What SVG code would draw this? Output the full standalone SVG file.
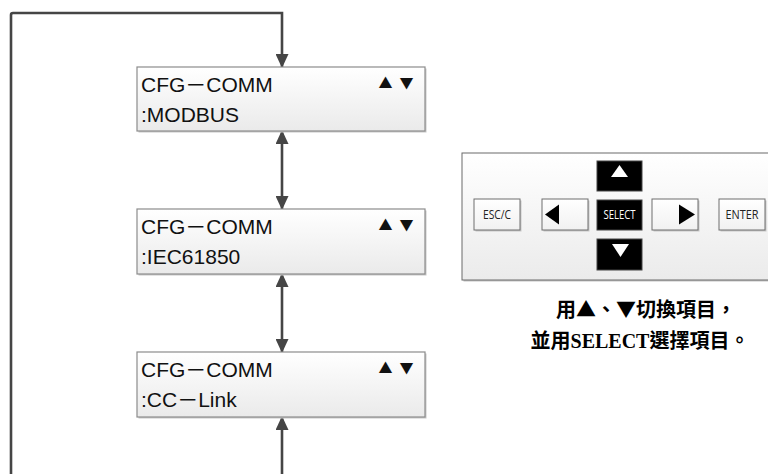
<svg xmlns="http://www.w3.org/2000/svg" width="768" height="474" viewBox="0 0 768 474">
<defs>
<linearGradient id="gNode" x1="0" y1="0" x2="0" y2="1">
<stop offset="0" stop-color="#ffffff"/>
<stop offset="1" stop-color="#eaeaea"/>
</linearGradient>
<linearGradient id="gPanel" x1="0" y1="0" x2="0" y2="1">
<stop offset="0" stop-color="#ffffff"/>
<stop offset="1" stop-color="#ebebeb"/>
</linearGradient>
<linearGradient id="gBtn" x1="0" y1="0" x2="0" y2="1">
<stop offset="0" stop-color="#ffffff"/>
<stop offset="1" stop-color="#f1f1f1"/>
</linearGradient>
<marker id="arr" markerUnits="userSpaceOnUse" markerWidth="14" markerHeight="13" refX="13" refY="6.5" orient="auto-start-reverse">
<path d="M0,0 L14,6.5 L0,13 z" fill="#454545"/>
</marker>
</defs>
<style>
.node{fill:url(#gNode);stroke:#8c8c8c;stroke-width:1.2}
.shadow{fill:#c8c8c8}
.ntxt{font-family:"Liberation Sans","Noto Sans CJK JP",sans-serif;font-size:21px;fill:#111}
.tri{font-family:"Noto Sans CJK JP",sans-serif;font-size:14px;fill:#111;text-anchor:middle}
.conn{fill:none;stroke:#454545;stroke-width:2.6}
.btn{fill:url(#gBtn);stroke:#6e6e6e;stroke-width:1}
.bbtn{fill:#000;stroke:#444;stroke-width:1}
.btxt{font-family:"Open Sans","Liberation Sans",sans-serif;font-size:12px;fill:#222;text-anchor:middle}
.wtxt{font-family:"Open Sans","Liberation Sans",sans-serif;font-size:12px;fill:#fff;text-anchor:middle}
.cap{font-family:"Liberation Serif","Noto Sans CJK TC",serif;font-size:20px;fill:#000;text-anchor:middle;font-weight:bold}
.cjk{font-family:"Noto Sans CJK TC",sans-serif}
</style>

<g id="connectors">
<path class="conn" d="M11,474 V15 Q11,13 13,13 H282 V67" marker-end="url(#arr)"/>
<path class="conn" d="M282,131 V209" marker-start="url(#arr)" marker-end="url(#arr)"/>
<path class="conn" d="M282,274 V352" marker-start="url(#arr)" marker-end="url(#arr)"/>
<path class="conn" d="M282,474 V417" marker-end="url(#arr)"/>
</g>

<g id="node1">
<rect class="shadow" x="138.5" y="68.5" width="288" height="64"/>
<rect class="node" x="137" y="67" width="288" height="64"/>
<text class="ntxt" x="141" y="92">CFG－COMM</text>
<text class="ntxt" x="141" y="122">:MODBUS</text>
<text class="tri" x="385.5" y="88">▲</text>
<text class="tri" x="406.5" y="88">▼</text>
</g>

<g id="node2">
<rect class="shadow" x="138.5" y="210.5" width="288" height="65"/>
<rect class="node" x="137" y="209" width="288" height="65"/>
<text class="ntxt" x="141" y="234">CFG－COMM</text>
<text class="ntxt" x="141" y="264">:IEC61850</text>
<text class="tri" x="385.5" y="230">▲</text>
<text class="tri" x="406.5" y="230">▼</text>
</g>

<g id="node3">
<rect class="shadow" x="138.5" y="353.5" width="288" height="65"/>
<rect class="node" x="137" y="352" width="288" height="65"/>
<text class="ntxt" x="141" y="377">CFG－COMM</text>
<text class="ntxt" x="141" y="407">:CC－Link</text>
<text class="tri" x="385.5" y="373">▲</text>
<text class="tri" x="406.5" y="373">▼</text>
</g>

<g id="panel">
<rect x="463.5" y="154.5" width="320" height="127" fill="#c4c4c4"/>
<rect x="462" y="153" width="320" height="127" fill="url(#gPanel)" stroke="#6a6a6a" stroke-width="1"/>
</g>

<g id="btn-esc">
<rect x="475.5" y="200.5" width="46" height="31" fill="#c8c8c8"/>
<rect class="btn" x="474" y="199" width="46" height="31"/>
<text class="btxt" x="497" y="219" textLength="28" lengthAdjust="spacingAndGlyphs">ESC/C</text>
</g>
<g id="btn-left">
<rect x="543.5" y="200.5" width="46" height="31" fill="#c8c8c8"/>
<rect class="btn" x="542" y="199" width="46" height="31"/>
<polygon points="545,214.5 559,204.5 559,224.5" fill="#000"/>
</g>
<g id="btn-up">
<rect class="bbtn" x="597" y="161" width="45" height="30"/>
<polygon points="619.5,165 628,177 611,177" fill="#fff"/>
</g>
<g id="btn-select">
<rect class="bbtn" x="597" y="200" width="45" height="30"/>
<text class="wtxt" x="619.5" y="219" textLength="32" lengthAdjust="spacingAndGlyphs">SELECT</text>
</g>
<g id="btn-down">
<rect class="bbtn" x="597" y="239" width="45" height="31"/>
<polygon points="612,244 629,244 620.5,257" fill="#fff"/>
</g>
<g id="btn-right">
<rect x="653.5" y="200.5" width="46" height="31" fill="#c8c8c8"/>
<rect class="btn" x="652" y="199" width="46" height="31"/>
<polygon points="679,204.5 695,214.5 679,224.5" fill="#000"/>
</g>
<g id="btn-enter">
<rect x="720.5" y="200.5" width="46" height="31" fill="#c8c8c8"/>
<rect class="btn" x="719" y="199" width="46" height="31"/>
<text class="btxt" x="742" y="219" textLength="33" lengthAdjust="spacingAndGlyphs">ENTER</text>
</g>

<g id="caption">
<text class="cap" x="646" y="317">用<tspan class="cjk">▲</tspan>、<tspan class="cjk">▼</tspan>切換項目，</text>
<text class="cap" x="640" y="348">並用SELECT選擇項目。</text>
</g>
</svg>
